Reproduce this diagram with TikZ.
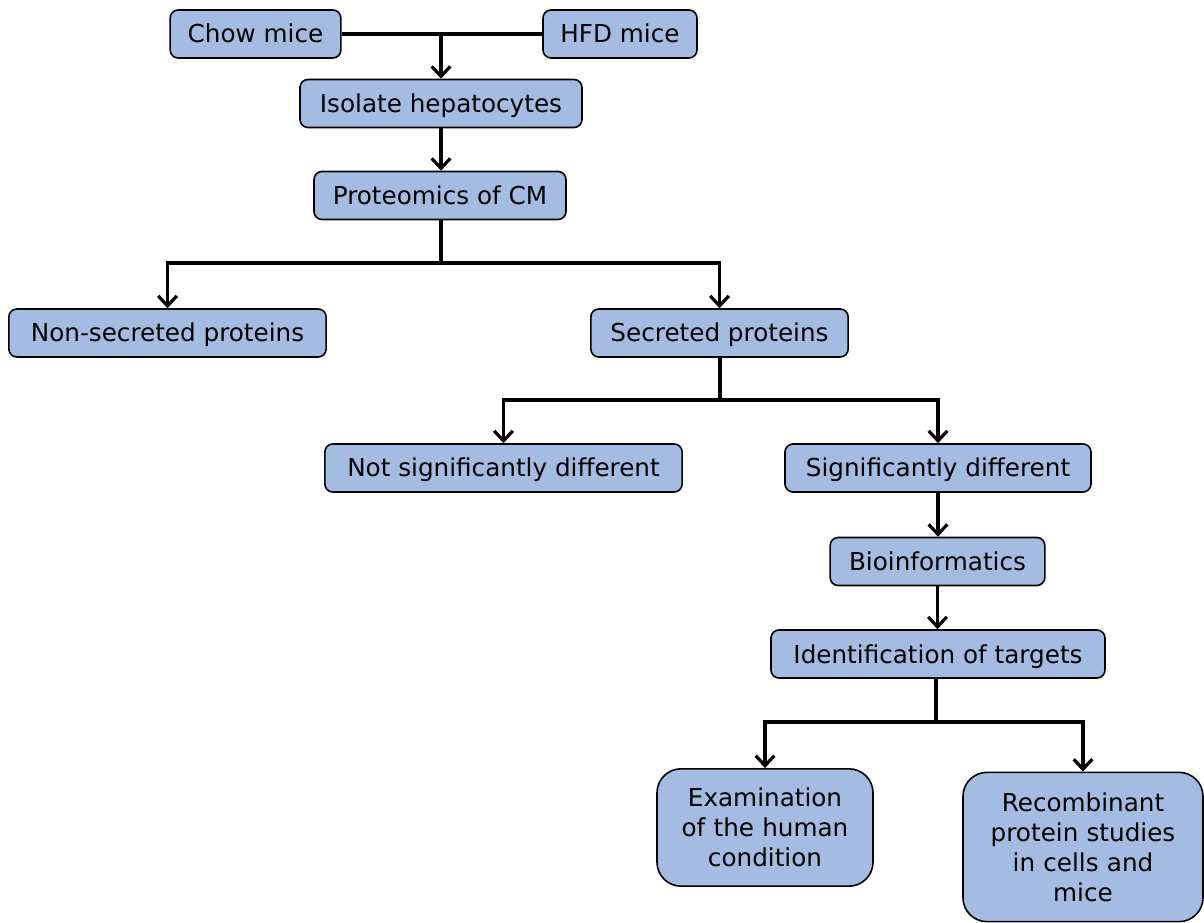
\documentclass[tikz,border=0pt]{standalone}
\usepackage{fontspec}
\setmainfont{DejaVu Sans}
\usetikzlibrary{arrows.meta,calc}
\definecolor{boxblue}{RGB}{164,188,226}
\begin{document}
\begin{tikzpicture}[x=0.75pt,y=-0.75pt,
		>={Straight Barb[length=7.5pt,width=14pt]},
		link/.style={line width=2.4pt},
		box/.style={draw,line width=1.2pt,fill=boxblue,rounded corners=6pt,inner sep=0pt,
			minimum height=36pt,font=\fontsize{18.5}{22.5}\selectfont,align=center,
			text height=13.5pt,text depth=0pt},
		bigbox/.style={box,rounded corners=18pt,text width=#1,text height=,text depth=}]
	\useasboundingbox (0,0) rectangle (1204,923);
	% boxes
	\node[box,minimum width=128pt] (chow) at (255.5,34) {Chow mice};
	\node[box,minimum width=115.5pt] (hfd) at (620,34) {HFD mice};
	\node[box,minimum width=211.5pt] (iso) at (441,103.5) {Isolate hepatocytes};
	\node[box,minimum width=189pt] (prot) at (440,195.5) {Proteomics of CM};
	\node[box,minimum width=238pt] (nonsec) at (167.5,333) {Non-secreted proteins};
	\node[box,minimum width=193pt] (sec) at (719.5,333) {Secreted proteins};
	\node[box,minimum width=268pt] (notsig) at (503.5,468) {Not significantly different};
	\node[box,minimum width=229.5pt] (sig) at (938,468) {Significantly different};
	\node[box,minimum width=161pt] (bio) at (937.5,561.5) {Bioinformatics};
	\node[box,minimum width=250.5pt] (ident) at (938,654) {Identification of targets};
	\node[bigbox=150pt,minimum width=162pt,minimum height=88pt] (exam) at (765,827.5)
		{Examination\\of the human\\condition};
	\node[bigbox=170pt,minimum width=180pt,minimum height=112pt] (recomb) at (1083,847)
		{Recombinant\\protein studies\\in cells and\\mice};
	% split points
	\coordinate (s1) at (441,263);
	\coordinate (s2) at (720,400);
	\coordinate (s3) at (936,722);
	% connectors
	\draw[link] (chow) -- (hfd);
	\draw[link,->] (iso |- chow) -- (iso);
	\draw[link,->] (iso) -- (iso |- prot.north);
	\draw[link] (prot.south -| s1) -- (s1);
	\draw[link,->] (s1) -| (nonsec);
	\draw[link,->] (s1) -| (sec);
	\draw[link] (sec.south -| s2) -- (s2);
	\draw[link,->] (s2) -| (notsig);
	\draw[link,->] (s2) -| (sig);
	\draw[link,->] (sig) -- (sig |- bio.north);
	\draw[link,->] (bio) -- (bio |- ident.north);
	\draw[link] (ident.south -| s3) -- (s3);
	\draw[link,->] (s3) -| (exam);
	\draw[link,->] (s3) -| (recomb);
\end{tikzpicture}
\end{document}
